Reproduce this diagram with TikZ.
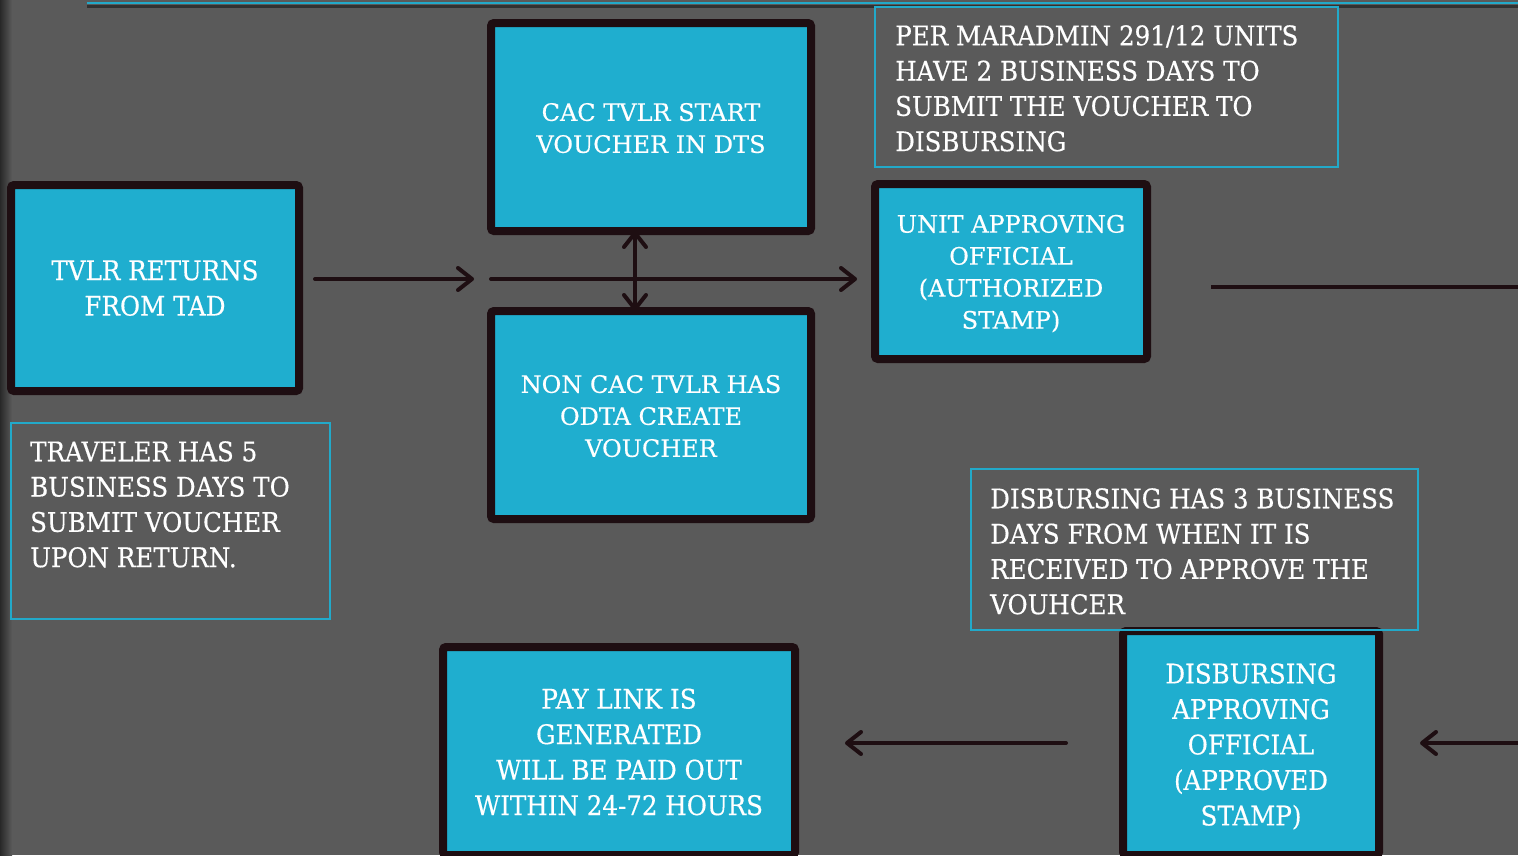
\documentclass[tikz,border=0pt]{standalone}
\usepackage{fontspec}
\setmainfont{DejaVu Serif}[FakeBold=0.4]
\newfontfamily\wideserif{DejaVu Serif}[FakeStretch=0.91,FakeBold=0.4]
\usetikzlibrary{arrows.meta,calc}
\definecolor{bg}{HTML}{5A5A5A}
\definecolor{boxfill}{HTML}{1FAECF}
\definecolor{ink}{HTML}{1E0E12}
\definecolor{rule}{HTML}{22A9C9}
% tall invisible strut that pushes a centred text block downwards
\newcommand{\dropby}[1]{\rule{0pt}{#1}}
\begin{document}
\begin{tikzpicture}[x=1pt,y=-1pt,
  stepbox/.style={draw=ink, line width=8pt, fill=boxfill, rounded corners=3pt,
    text=white, align=center, inner sep=0pt},
  bigtext/.style={font=\wideserif\fontsize{27}{35.5}\selectfont},
  smalltext/.style={font=\fontsize{24}{32}\selectfont},
  note/.style={draw=rule, line width=2pt, inner sep=0pt},
  notetext/.style={text=white, align=left, inner sep=0pt, anchor=north west,
    font=\wideserif\fontsize{27}{35.3}\selectfont},
  flow/.style={draw=ink, line width=4pt, line cap=round,
    -{Straight Barb[length=14pt,width=22pt,round]}},
  flowboth/.style={flow, {Straight Barb[length=14pt,width=22pt,round]}-{Straight Barb[length=14pt,width=22pt,round]}},
  plainflow/.style={draw=ink, line width=4pt}
]
% page background
\fill[bg] (0,0) rectangle (1518,855);
\useasboundingbox (0,0) rectangle (1518,855);
\shade[left color=black!55!bg, right color=bg] (0,0) rectangle (12,855);

% rule along the top edge
\draw[black!45!bg, line width=3pt] (87,6) -- (1518,6);
\draw[rule, line width=2.5pt] (87,3) -- (1518,3);

% process boxes
\node[stepbox, bigtext, minimum width=288pt, minimum height=206pt] (ret) at (155,288)
  {TVLR RETURNS\\FROM TAD};
\node[stepbox, smalltext, minimum width=320pt, minimum height=208pt] (cac) at (651,127)
  {\dropby{20pt}CAC TVLR START\\VOUCHER IN DTS};
\node[stepbox, smalltext, minimum width=320pt, minimum height=208pt] (non) at (651,415)
  {\dropby{20pt}NON CAC TVLR HAS\\ODTA CREATE\\VOUCHER};
\node[stepbox, smalltext, minimum width=272pt, minimum height=175pt] (unit) at (1011,271.5)
  {\dropby{22pt}UNIT APPROVING\\OFFICIAL\\(AUTHORIZED\\STAMP)};
\node[stepbox, bigtext, minimum width=352pt, minimum height=208pt] (pay) at (619,751)
  {\dropby{22pt}PAY LINK IS\\GENERATED\\WILL BE PAID OUT\\WITHIN 24-72 HOURS};
\node[stepbox, bigtext, minimum width=256pt, minimum height=224pt] (dao) at (1251,743)
  {\dropby{27pt}DISBURSING\\APPROVING\\OFFICIAL\\(APPROVED\\STAMP)};

% notes
\node[note, minimum width=463pt, minimum height=160pt] (per) at (1106.5,87) {};
\node[notetext] (pertxt) at (895,25)
  {PER MARADMIN 291/12 UNITS\\HAVE 2 BUSINESS DAYS TO\\SUBMIT THE VOUCHER TO\\DISBURSING};
\node[note, minimum width=319pt, minimum height=196pt] (trav) at (170.5,521) {};
\node[notetext] (travtxt) at (30,441)
  {TRAVELER HAS 5\\BUSINESS DAYS TO\\SUBMIT VOUCHER\\UPON RETURN.};
\node[note, minimum width=447pt, minimum height=161pt] (disb) at (1194.5,549.5) {};
\node[notetext] (disbtxt) at (990,488)
  {DISBURSING HAS 3 BUSINESS\\DAYS FROM WHEN IT IS\\RECEIVED TO APPROVE THE\\VOUHCER};

% connector end points
\coordinate (a1s) at (315,279);
\coordinate (a1e) at (474,279);
\coordinate (a2s) at (491,279);
\coordinate (a2e) at (857,279);
\coordinate (vx) at (635,0);
\coordinate (r1s) at (1211,287);
\coordinate (r1e) at (1525,287);
\coordinate (b1s) at (1066,743);
\coordinate (b1e) at (845,743);
\coordinate (b2s) at (1525,743);
\coordinate (b2e) at (1420,743);

% connectors
\draw[flow] (a1s) -- (a1e);
\draw[flow] (a2s) -- (a2e);
\draw[flowboth, shorten <=-4pt, shorten >=-4pt] (cac.south -| vx) -- (non.north -| vx);
\draw[plainflow] (r1s) -- (r1e);
\draw[flow] (b1s) -- (b1e);
\draw[flow] (b2s) -- (b2e);
\end{tikzpicture}
\end{document}
